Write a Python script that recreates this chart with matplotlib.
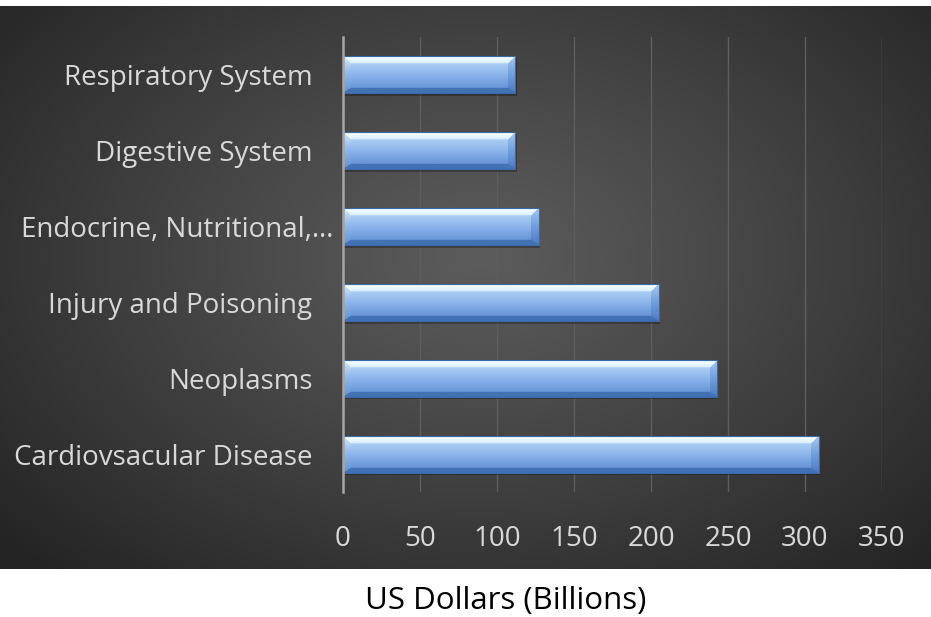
import numpy as np
import matplotlib
matplotlib.use("Agg")
import matplotlib.pyplot as plt
import matplotlib.transforms as mtransforms

# Annual spending by disease category (US$ billions)
categories = [
    "Cardiovsacular Disease",
    "Neoplasms",
    "Injury and Poisoning",
    "Endocrine, Nutritional,\u2026",
    "Digestive System",
    "Respiratory System",
]
spending = [309, 243, 205, 127, 112, 112]
x_ticks = [0, 50, 100, 150, 200, 250, 300, 350]

FONT = "Open Sans"
W, H, DPI = 931, 617, 100

fig = plt.figure(figsize=(W / DPI, H / DPI), dpi=DPI, facecolor="white")

# ---- dark radial-gradient panel behind the chart ----
panel_top, panel_bot = 6, 569
bg_ax = fig.add_axes([0, (H - panel_bot) / H, 1, (panel_bot - panel_top) / H], zorder=0)
ph = panel_bot - panel_top
yy, xx = np.mgrid[0:ph, 0:W]
cx, cy = 480, 250
d = np.sqrt(((xx - cx) / 640.0) ** 2 + ((yy - cy) / 430.0) ** 2)
d = np.clip(d, 0, 1)
light, dark = 92 / 255, 36 / 255
v = light - (light - dark) * d ** 1.1
bg = np.dstack([v, v, v])
bg_ax.imshow(bg, aspect="auto", interpolation="bilinear")
bg_ax.set_axis_off()

# ---- main axes ----
ax_l, ax_r, ax_t, ax_b = 343, 882, 37, 492
ax = fig.add_axes([ax_l / W, (H - ax_b) / H, (ax_r - ax_l) / W, (ax_b - ax_t) / H], zorder=1)
ax.set_facecolor("none")

ypos = np.arange(len(categories))
bar_h = 0.49
bars = ax.barh(ypos, spending, height=bar_h, color="none",
               edgecolor="#3a69a8", linewidth=0.8, zorder=4)

ax.set_xlim(0, 350)
ax.set_ylim(-0.5, len(categories) - 0.5)


def hex2rgb(h):
    h = h.lstrip("#")
    return np.array([int(h[i:i + 2], 16) for i in (0, 2, 4)]) / 255.0


def vgrad(stops, n):
    pos = np.array([s[0] for s in stops])
    cols = np.array([hex2rgb(s[1]) for s in stops])
    t = np.linspace(0, 1, n)
    return np.stack([np.interp(t, pos, cols[:, k]) for k in range(3)], axis=1)


def bevel_image(wpx, hpx, bx=8, bt=8, bb=5):
    """Angled-bevel bar face: top, bottom, left and right facets around a glossy core."""
    wpx, hpx = max(int(round(wpx)), 2), max(int(round(hpx)), 2)
    i, j = np.mgrid[0:hpx, 0:wpx].astype(float)
    dt = i / bt
    db = (hpx - 1 - i) / bb
    dl = j / bx
    dr = (wpx - 1 - j) / bx
    stack = np.stack([dt, db, dl, dr])
    facet = np.argmin(stack, axis=0)
    m = np.min(stack, axis=0)

    core = vgrad([(0.0, "#c3e0fa"), (0.30, "#a2c7f2"), (0.6, "#84ade7"),
                  (0.85, "#6996d9"), (1.0, "#5282c6")], hpx)[:, None, :]
    core = np.broadcast_to(core, (hpx, wpx, 3)).copy()
    top = vgrad([(0.0, "#f4fcff"), (0.12, "#eaf8ff"), (0.22, "#d6edfd"),
                 (1.0, "#d6edfd")], hpx)[:, None, :]
    top = np.broadcast_to(top, (hpx, wpx, 3))
    bot = np.broadcast_to(hex2rgb("#4372b5"), (hpx, wpx, 3))
    left = vgrad([(0.0, "#d4eafc"), (0.5, "#8db6ec"), (1.0, "#6292d5")], hpx)[:, None, :]
    left = np.broadcast_to(left, (hpx, wpx, 3))
    right = vgrad([(0.0, "#a5c8f1"), (0.5, "#729fde"), (1.0, "#4c7dc2")], hpx)[:, None, :]
    right = np.broadcast_to(right, (hpx, wpx, 3))

    img = core.copy()
    inside = m < 1.0
    for k, src in enumerate([top, bot, left, right]):
        sel = inside & (facet == k)
        img[sel] = src[sel]
    return img


fig.canvas.draw()
for rect in bars.patches:
    x0, y0 = rect.get_x(), rect.get_y()
    w, h = rect.get_width(), rect.get_height()
    (px0, py0), (px1, py1) = ax.transData.transform([(x0, y0), (x0 + w, y0 + h)])
    img = bevel_image(abs(px1 - px0), abs(py1 - py0))
    # soft drop shadow
    shadow = plt.Rectangle((x0 + 0.8, y0 - 0.035), w, h, facecolor="black",
                           alpha=0.28, edgecolor="none", zorder=2)
    ax.add_patch(shadow)
    im = ax.imshow(img, extent=[x0, x0 + w, y0, y0 + h], aspect="auto",
                   origin="upper", interpolation="bilinear", zorder=3)
    im.set_clip_path(rect)

ax.set_xlim(0, 350)
ax.set_ylim(-0.5, len(categories) - 0.5)

# gridlines and value axis
ax.set_xticks(x_ticks)
ax.grid(axis="x", color="#5e5e5e", linewidth=1.0, zorder=1)
ax.grid(axis="y", visible=False)
ax.set_axisbelow(True)
for s in ["top", "right", "bottom"]:
    ax.spines[s].set_visible(False)
ax.spines["left"].set_color("#a6a6a6")
ax.spines["left"].set_linewidth(1.8)
ax.spines["left"].set_zorder(5)

ax.tick_params(axis="both", length=0, colors="#d9d9d9")
ax.tick_params(axis="x", pad=24)
ax.tick_params(axis="y", pad=22)
ax.set_xticklabels([str(t) for t in x_ticks], fontsize=20, family=FONT, color="#d9d9d9")
ax.set_yticks(ypos)
ax.set_yticklabels(categories, fontsize=20, family=FONT, color="#d9d9d9")

# the truncated label sits closer to the axis
for lbl in ax.get_yticklabels():
    if lbl.get_text().endswith("\u2026"):
        lbl.set_transform(lbl.get_transform() +
                          mtransforms.ScaledTranslation(21 / DPI, 0, fig.dpi_scale_trans))

fig.text(506 / W, (H - 609) / H, "US Dollars (Billions)", ha="center", va="baseline",
         fontsize=22.5, family=FONT, color="black")

fig.savefig("out.png", dpi=DPI, facecolor="white")
